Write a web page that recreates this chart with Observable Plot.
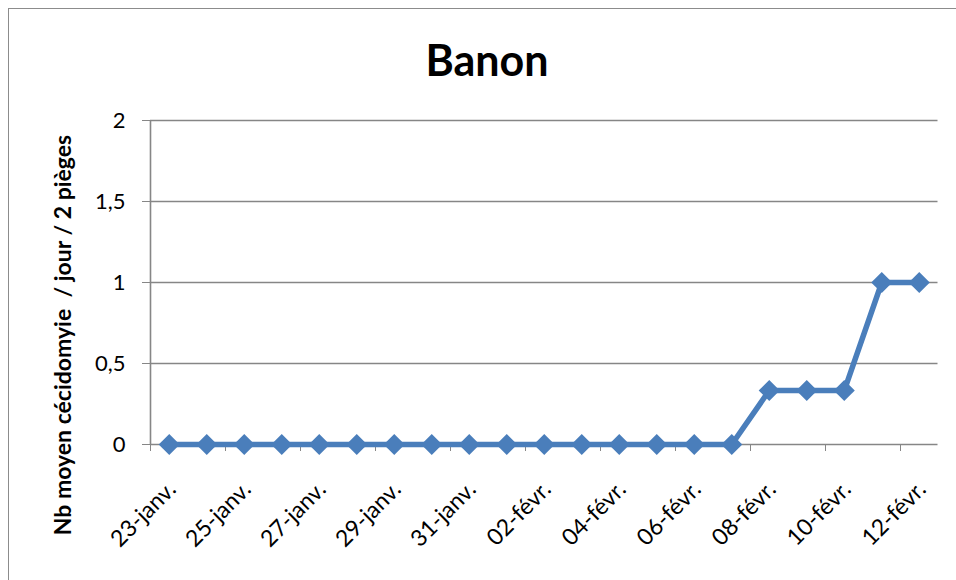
<!DOCTYPE html>
<html>
<head>
<meta charset="utf-8">
<script src="https://cdn.jsdelivr.net/npm/d3@7"></script>
<script src="https://cdn.jsdelivr.net/npm/@observablehq/plot@0.6"></script>
<style>
  html, body { margin: 0; padding: 0; background: #fff; }
  #wrap { position: relative; width: 956px; height: 580px; overflow: hidden; font-family: Lato, sans-serif; }
  #border { position: absolute; left: 8px; top: 8px; width: 1000px; height: 1000px; border: 1.5px solid #8c8c8c; box-sizing: border-box; }
  #title { position: absolute; left: 0; top: 0; width: 974px; height: 100px; text-align: center; font-weight: bold; font-size: 43px; padding-top: 20px; box-sizing: border-box; line-height: 80px; color: #000; }
  #ytitle { position: absolute; left: 62px; top: 335px; transform: translate(-50%, -50%) rotate(-90deg); white-space: pre; font-weight: bold; font-size: 23px; line-height: 1; color: #000; }
  #chart { position: absolute; left: 0; top: 100px; }
</style>
</head>
<body>
<div id="wrap">
  <div id="border"></div>
  <div id="title">Banon</div>
  <div id="chart"></div>
  <div id="ytitle"></div>
</div>
<script>
const dates = [
  "23-janv.", "24-janv.", "25-janv.", "26-janv.", "27-janv.", "28-janv.", "29-janv.",
  "30-janv.", "31-janv.", "01-févr.", "02-févr.", "03-févr.", "04-févr.", "05-févr.",
  "06-févr.", "07-févr.", "08-févr.", "09-févr.", "10-févr.", "11-févr.", "12-févr."
];
const values = [0, 0, 0, 0, 0, 0, 0, 0, 0, 0, 0, 0, 0, 0, 0, 0, 0.333, 0.333, 0.333, 1, 1];
const tickLabels = ["23-janv.", "25-janv.", "27-janv.", "29-janv.", "31-janv.", "02-févr.",
  "04-févr.", "06-févr.", "08-févr.", "10-févr.", "12-févr."];
const yTicks = [0, 0.5, 1, 1.5, 2];
const yTitle = "Nb moyen cécidomyie  / jour / 2 pièges";

document.getElementById("ytitle").textContent = yTitle;

const data = dates.map((d, i) => ({i, date: d, v: values[i]}));
const labelIdx = tickLabels.map(l => dates.indexOf(l));
const boundaries = d3.range(-0.5, dates.length - 0.5, 2);
const grey = "#868686";
const blue = "#4a7ebb";

const chart = Plot.plot({
  width: 956,
  height: 480,
  marginLeft: 150,
  marginRight: 18.5,
  marginTop: 20,
  marginBottom: 136,
  style: {fontFamily: "Lato, sans-serif", fontSize: "21px", color: "#000", background: "transparent", overflow: "visible"},
  x: {type: "linear", domain: [-0.5, dates.length - 0.5]},
  y: {domain: [0, 2]},
  marks: [
    Plot.ruleY(yTicks.filter(d => d > 0), {stroke: grey, strokeWidth: 1.4}),
    Plot.ruleY([0], {stroke: grey, strokeWidth: 1.6}),
    Plot.ruleX([-0.5], {stroke: grey, strokeWidth: 1.6}),
    Plot.axisY({ticks: yTicks, tickFormat: d => String(d).replace(".", ","), tickSize: 8, tickPadding: 17, stroke: grey, fill: "#000", label: null, fontSize: 22}),
    Plot.axisX({ticks: boundaries, tickSize: 7, tickFormat: () => "", stroke: grey, label: null}),
    Plot.axisX({ticks: labelIdx, tickFormat: i => dates[i], tickRotate: -45, tickSize: 0, tickPadding: 41, dx: 3, fill: "#000", label: null, fontSize: 23}),
    Plot.line(data, {x: "i", y: "v", stroke: blue, strokeWidth: 5.5}),
    Plot.dot(data, {x: "i", y: "v", symbol: "diamond2", r: 9.5, fill: blue, stroke: "none"})
  ]
});
document.getElementById("chart").appendChild(chart);
</script>
</body>
</html>
